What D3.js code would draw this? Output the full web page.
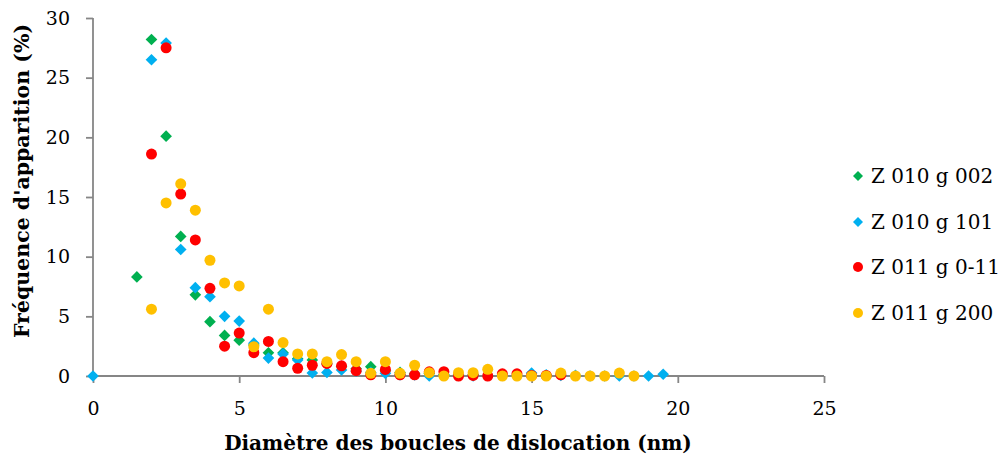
<!DOCTYPE html>
<html>
<head>
<meta charset="utf-8">
<script src="https://cdn.jsdelivr.net/npm/d3@7"></script>
<style>
  body { margin: 0; background: #fff; }
  svg { display: block; }
</style>
</head>
<body>
<svg id="chart" width="1005" height="462"></svg>
<script>
// ---- data ----
const seriesNames = ["Z 010 g 002", "Z 010 g 101", "Z 011 g 0-11", "Z 011 g 200"];
const seriesColors = ["#00B050", "#00B0F0", "#FF0000", "#FFC000"];
const seriesShapes = ["diamond", "diamond", "circle", "circle"];

const greenX = [1.5, 2, 2.5, 3, 3.5, 4, 4.5, 5, 5.5, 6, 6.5, 7, 7.5, 8, 8.5, 9, 9.5, 10, 10.5, 11, 11.5, 12, 12.5, 13];
const greenY = [8.3, 28.2, 20.1, 11.7, 6.8, 4.55, 3.4, 3.0, 2.6, 1.95, 1.95, 1.45, 1.35, 1.0, 0.8, 0.6, 0.78, 0.45, 0.3, 0.2, 0.2, 0.1, 0.1, 0.1];

const blueX = [0, 2, 2.5, 3, 3.5, 4, 4.5, 5, 5.5, 6, 6.5, 7, 7.5, 8, 8.5, 9, 9.5, 10, 10.5, 11, 11.5, 12, 12.5, 13, 13.5, 14, 14.5, 15, 15.5, 16, 16.5, 17, 17.5, 18, 18.5, 19, 19.5];
const blueY = [0, 26.5, 27.9, 10.6, 7.4, 6.65, 5.0, 4.6, 2.75, 1.5, 1.85, 1.35, 0.25, 0.3, 0.5, 0.4, 0.3, 0.22, 0.1, 0.1, 0, 0.1, 0.05, 0, 0.05, 0.05, 0.05, 0.25, 0.1, 0.05, 0.05, 0, 0, 0, 0, 0, 0.15];

const redX = [2, 2.5, 3, 3.5, 4, 4.5, 5, 5.5, 6, 6.5, 7, 7.5, 8, 8.5, 9, 9.5, 10, 10.5, 11, 11.5, 12, 12.5, 13, 13.5, 14, 14.5, 15, 15.5, 16];
const redY = [18.6, 27.5, 15.25, 11.4, 7.35, 2.5, 3.6, 1.95, 2.9, 1.2, 0.65, 0.9, 1.05, 0.85, 0.45, 0.1, 0.55, 0.1, 0.1, 0.35, 0.36, 0, 0.05, 0, 0.18, 0.18, 0.05, 0.05, 0.1];

const yellowX = [2, 2.5, 3, 3.5, 4, 4.5, 5, 5.5, 6, 6.5, 7, 7.5, 8, 8.5, 9, 9.5, 10, 10.5, 11, 11.5, 12, 12.5, 13, 13.5, 14, 14.5, 15, 15.5, 16, 16.5, 17, 17.5, 18, 18.5];
const yellowY = [5.6, 14.5, 16.1, 13.9, 9.7, 7.8, 7.55, 2.45, 5.6, 2.8, 1.85, 1.85, 1.2, 1.8, 1.2, 0.22, 1.2, 0.22, 0.9, 0.28, 0, 0.28, 0.28, 0.56, 0, 0, 0, 0, 0.25, 0, 0, 0, 0.25, 0];

const xTicks = [0, 5, 10, 15, 20, 25];
const yTicks = [0, 5, 10, 15, 20, 25, 30];
const xTitle = "Diamètre des boucles de dislocation (nm)";
const yTitle = "Fréquence d'apparition (%)";

const seriesX = [greenX, blueX, redX, yellowX];
const seriesY = [greenY, blueY, redY, yellowY];

// ---- chart ----
const svg = d3.select("#chart");
const FONT = "'DejaVu Serif', 'Liberation Serif', serif";
const x = d3.scaleLinear().domain([0, 25]).range([93, 824]);
const y = d3.scaleLinear().domain([0, 30]).range([376, 18]);
const axisColor = "#868686";

// axes
const gx = svg.append("g").attr("transform", `translate(0,${y(0)})`)
  .call(d3.axisBottom(x).tickValues(xTicks).tickSize(7).tickPadding(19).tickFormat(d3.format("d")));
const gy = svg.append("g").attr("transform", `translate(${x(0)},0)`)
  .call(d3.axisLeft(y).tickValues(yTicks).tickSize(7).tickPadding(16).tickFormat(d3.format("d")));
[gx, gy].forEach(g => {
  g.select(".domain").attr("stroke", axisColor).attr("stroke-width", 1.8);
  g.selectAll(".tick line").attr("stroke", axisColor).attr("stroke-width", 1.8);
  g.selectAll(".tick text").attr("fill", "#000").style("font-family", FONT).style("font-size", "19px");
});
gx.select(".domain").attr("d", `M${x(0)},0H${x(25)}`);
gy.select(".domain").attr("d", `M0,${y(0)}V${y(30)}`);

// points
const diamond = d3.symbol().type(d3.symbolSquare).size(68);
seriesNames.forEach((name, i) => {
  const pts = seriesX[i].map((v, j) => [v, seriesY[i][j]]);
  const g = svg.append("g");
  if (seriesShapes[i] === "circle") {
    g.selectAll("circle").data(pts).join("circle")
      .attr("cx", d => x(d[0])).attr("cy", d => y(d[1])).attr("r", 5.5)
      .attr("fill", seriesColors[i]);
  } else {
    g.selectAll("path").data(pts).join("path")
      .attr("d", diamond)
      .attr("transform", d => `translate(${x(d[0])},${y(d[1])}) rotate(45)`)
      .attr("fill", seriesColors[i]);
  }
});

// axis titles
svg.append("text").attr("x", 458).attr("y", 450).attr("text-anchor", "middle")
  .style("font-family", FONT).style("font-size", "20px").style("font-weight", "bold")
  .text(xTitle);
svg.append("text").attr("transform", `translate(29,181) rotate(-90)`).attr("text-anchor", "middle")
  .style("font-family", FONT).style("font-size", "20.5px").style("font-weight", "bold")
  .text(yTitle);

// legend
const legendY = [176, 222, 267, 313];
const lg = svg.append("g");
seriesNames.forEach((name, i) => {
  const cy = legendY[i];
  if (seriesShapes[i] === "circle") {
    lg.append("circle").attr("cx", 858).attr("cy", cy).attr("r", 5).attr("fill", seriesColors[i]);
  } else {
    lg.append("path").attr("d", d3.symbol().type(d3.symbolSquare).size(50))
      .attr("transform", `translate(858,${cy}) rotate(45)`).attr("fill", seriesColors[i]);
  }
  lg.append("text").attr("x", 871).attr("y", cy + 7)
    .style("font-family", FONT).style("font-size", "20px").text(name);
});
</script>
</body>
</html>
